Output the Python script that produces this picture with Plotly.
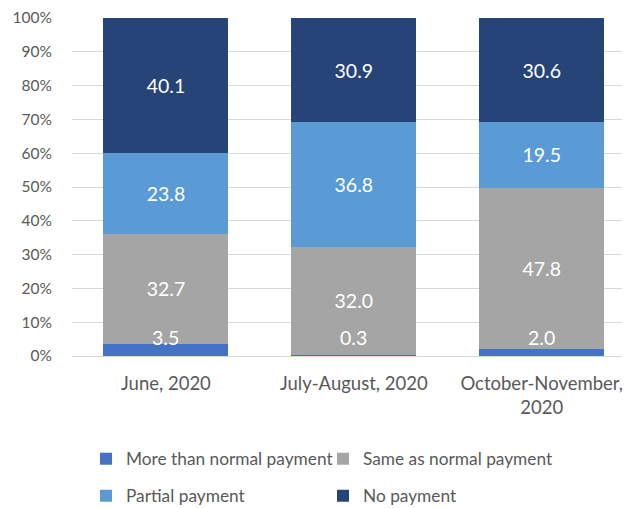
import plotly.graph_objects as go

categories = ["June, 2020", "July-August, 2020", "October-November,<br>2020"]
more_than_normal = [3.5, 0.3, 2.0]
same_as_normal = [32.7, 32.0, 47.8]
partial_payment = [23.8, 36.8, 19.5]
no_payment = [40.1, 30.9, 30.6]
y_ticks = [0, 10, 20, 30, 40, 50, 60, 70, 80, 90, 100]
y_tick_labels = [f"{v}%" for v in y_ticks]

FONT = "Lato, 'Open Sans', sans-serif"
series = [
    ("More than normal payment", more_than_normal, "#4472C4", "legend"),
    ("Same as normal payment", same_as_normal, "#A5A5A5", "legend"),
    ("Partial payment", partial_payment, "#5B9BD5", "legend2"),
    ("No payment", no_payment, "#264478", "legend2"),
]

fig = go.Figure()
for i, (name, vals, color, lg) in enumerate(series):
    show_text = i != 0
    fig.add_trace(go.Bar(
        x=categories, y=vals, name=name,
        marker=dict(color=color, line=dict(width=0)),
        width=0.665,
        text=[f"{v:.1f}" for v in vals] if show_text else None,
        textposition="inside" if show_text else "none",
        insidetextanchor="middle",
        textangle=0,
        textfont=dict(color="white", size=19.5, family=FONT),
        legend=lg,
        hoverinfo="skip",
    ))

# labels of the thin bottom segment, drawn just above it inside the grey segment
for c, v in zip(categories, more_than_normal):
    fig.add_annotation(x=c, y=5.5, xref="x", yref="y", text=f"{v:.1f}",
                       showarrow=False, font=dict(color="white", size=19.5, family=FONT))

TOP, BOTTOM, HEIGHT = 10, 152, 500
PLOT_H = HEIGHT - TOP - BOTTOM
legend_common = dict(orientation="h", x=(78 - 64) / 558, xanchor="left",
                     yanchor="middle", entrywidth=192, entrywidthmode="pixels",
                     font=dict(size=17.3, color="#595959"), itemwidth=30,
                     traceorder="normal", bgcolor="rgba(0,0,0,0)")

fig.update_layout(
    barmode="stack",
    width=622, height=HEIGHT,
    margin=dict(l=64, r=0, t=TOP, b=BOTTOM, autoexpand=False),
    paper_bgcolor="white", plot_bgcolor="white",
    font=dict(family=FONT, color="#595959", size=14),
    uniformtext=dict(mode="show", minsize=10),
    xaxis=dict(range=[-0.5, 2.47], showgrid=False, showline=False, ticks="",
               tickfont=dict(size=18.5, color="#595959"), ticklabelstandoff=14),
    yaxis=dict(range=[0, 100], tickvals=y_ticks, ticktext=y_tick_labels,
               showgrid=True, gridcolor="#D9D9D9", gridwidth=1,
               zeroline=True, zerolinecolor="#D9D9D9", zerolinewidth=1,
               showline=False, ticks="", ticklabelstandoff=19,
               ticklabeloverflow="allow",
               tickfont=dict(size=15.5, color="#595959")),
    legend=dict(**legend_common, y=-103 / PLOT_H),
    legend2=dict(**legend_common, y=-140 / PLOT_H),
    showlegend=True,
)

fig.write_html("out.html")
